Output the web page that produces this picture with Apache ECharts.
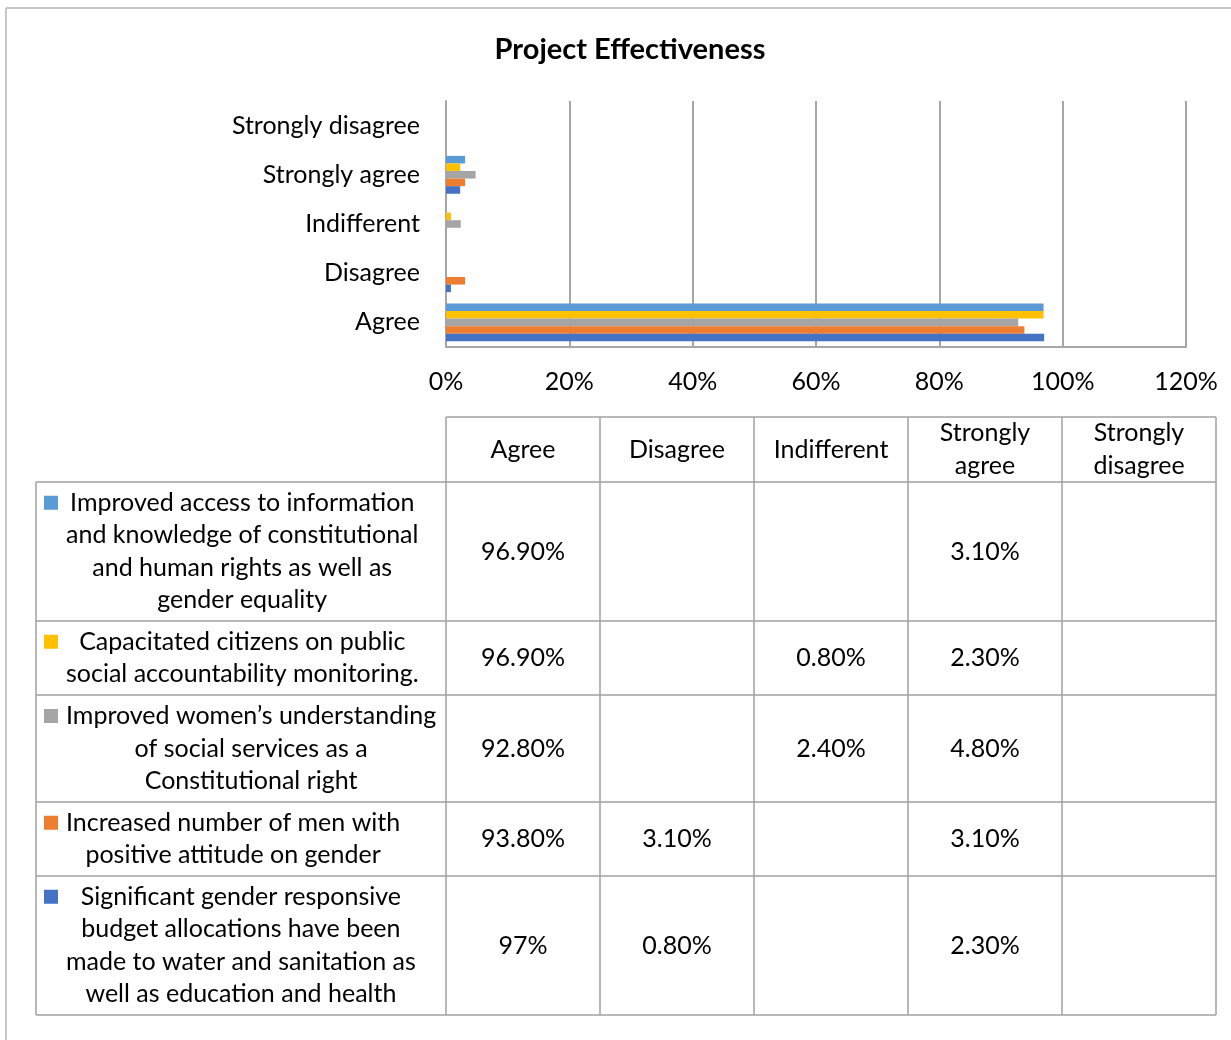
<!DOCTYPE html>
<html>
<head>
<meta charset="utf-8">
<title>Project Effectiveness</title>
<script src="https://cdn.jsdelivr.net/npm/echarts@6/dist/echarts.min.js"></script>
<style>
  html, body { margin: 0; padding: 0; background: #ffffff; }
  #chart { width: 1231px; height: 1040px; }
</style>
</head>
<body>
<div id="chart"></div>
<script>
// ---- Data -------------------------------------------------------------
const categories = ['Agree', 'Disagree', 'Indifferent', 'Strongly agree', 'Strongly disagree'];

// Series names as shown in the data table (line breaks as laid out in the cells)
const seriesNames = [
  'Improved access to information\nand knowledge of constitutional\nand human rights as well as\ngender equality',
  'Capacitated citizens on public\nsocial accountability monitoring.',
  'Improved women\u2019s understanding\nof social services as a\nConstitutional right',
  'Increased number of men with\npositive attitude on gender',
  'Significant gender responsive\nbudget allocations have been\nmade to water and sanitation as\nwell as education and health'
];

// Percent values per category (Agree, Disagree, Indifferent, Strongly agree, Strongly disagree)
const accessToInformation   = [96.9, null, null, 3.1, null];
const citizensCapacitated   = [96.9, null, 0.8, 2.3, null];
const womensUnderstanding   = [92.8, null, 2.4, 4.8, null];
const menPositiveAttitude   = [93.8, 3.1, null, 3.1, null];
const genderBudgetAllocated = [97, 0.8, null, 2.3, null];

const seriesValues = [accessToInformation, citizensCapacitated, womensUnderstanding, menPositiveAttitude, genderBudgetAllocated];
const seriesColors = ['#5B9BD5', '#FFC000', '#A5A5A5', '#ED7D31', '#4472C4'];

const axisMax = 120;
const axisStep = 20;

// ---- Styling / layout ------------------------------------------------
const FONT = 'Lato';
const FS = 25;
const LINE_H = 32.5;
const GRID_COLOR = '#A6A6A6';
const TABLE_COLOR = '#A0A0A0';

const colEdges = [446, 600, 754, 908, 1062, 1216];
const rowEdges = [417, 482, 621, 695, 802, 876, 1015];
const tableLeft = 36;
const keyLeft = 44, keySize = 14, legendTextLeft = 66;

const measureCtx = document.createElement('canvas').getContext('2d');
measureCtx.font = FS + 'px ' + FONT;
const textWidth = s => measureCtx.measureText(s).width;

const fmtPct = v => (Number.isInteger(v) ? v : v.toFixed(2)) + '%';

const txt = (text, x, y, extra) => ({
  type: 'text',
  silent: true,
  style: Object.assign({
    text: text, x: x, y: y,
    fontFamily: FONT, fontSize: FS, fill: '#000',
    align: 'center', verticalAlign: 'middle', lineHeight: LINE_H
  }, extra || {})
});
const line = (x1, y1, x2, y2, color, w) => ({
  type: 'line', silent: true,
  shape: { x1: x1, y1: y1, x2: x2, y2: y2 },
  style: { stroke: color, lineWidth: w }
});

// ---- Data table under the chart ---------------------------------------
const graphics = [];
// outer frame edges
graphics.push(line(6, 8, 6, 1040, '#B4B4B4', 1.5));
graphics.push(line(6, 8, 1231, 8, '#B4B4B4', 1.5));

// grid lines of the table
graphics.push(line(colEdges[0], rowEdges[0], colEdges[colEdges.length - 1], rowEdges[0], TABLE_COLOR, 1.5));
for (let r = 1; r < rowEdges.length; r++) {
  graphics.push(line(tableLeft, rowEdges[r], colEdges[colEdges.length - 1], rowEdges[r], TABLE_COLOR, 1.5));
}
graphics.push(line(tableLeft, rowEdges[1], tableLeft, rowEdges[rowEdges.length - 1], TABLE_COLOR, 1.5));
colEdges.forEach(x => graphics.push(line(x, rowEdges[0], x, rowEdges[rowEdges.length - 1], TABLE_COLOR, 1.5)));

// header row: category names
categories.forEach((c, i) => {
  const cx = (colEdges[i] + colEdges[i + 1]) / 2;
  const cy = (rowEdges[0] + rowEdges[1]) / 2;
  graphics.push(txt(c.replace(' ', '\n'), cx, cy));
});

// one row per series: legend key, name, values
seriesNames.forEach((name, s) => {
  const top = rowEdges[s + 1], bottom = rowEdges[s + 2];
  const cy = (top + bottom) / 2;
  const lines = name.split('\n');
  const maxW = Math.max.apply(null, lines.map(textWidth));
  const firstLineY = cy - (lines.length - 1) * LINE_H / 2;
  graphics.push({
    type: 'rect', silent: true,
    shape: { x: keyLeft, y: firstLineY - keySize / 2, width: keySize, height: keySize },
    style: { fill: seriesColors[s] }
  });
  graphics.push(txt(name, legendTextLeft + maxW / 2, cy));
  seriesValues[s].forEach((v, i) => {
    if (v == null) return;
    const cx = (colEdges[i] + colEdges[i + 1]) / 2;
    graphics.push(txt(fmtPct(v), cx, cy));
  });
});

// ---- Chart --------------------------------------------------------------
const option = {
  animation: false,
  backgroundColor: '#ffffff',
  title: {
    text: 'Project Effectiveness',
    left: 625,
    top: 30,
    textAlign: 'center',
    textStyle: { fontFamily: FONT, fontSize: 29, fontWeight: 'bold', color: '#000' }
  },
  grid: { left: 446, top: 101, width: 740, height: 246, containLabel: false },
  xAxis: {
    type: 'value',
    min: 0,
    max: axisMax,
    interval: axisStep,
    axisLine: { show: true, lineStyle: { color: GRID_COLOR, width: 2 } },
    axisTick: { show: false },
    splitLine: { show: true, lineStyle: { color: GRID_COLOR, width: 2 } },
    axisLabel: { formatter: '{value}%', fontFamily: FONT, fontSize: FS, color: '#000', margin: 22 }
  },
  yAxis: {
    type: 'category',
    data: categories,
    axisLine: { show: true, lineStyle: { color: GRID_COLOR, width: 2 } },
    axisTick: { show: false },
    splitLine: { show: false },
    axisLabel: { fontFamily: FONT, fontSize: FS, color: '#000', margin: 26 }
  },
  // first table row sits at the top of each category band
  series: seriesNames.map((name, s) => ({
    type: 'bar',
    name: name,
    data: seriesValues[s],
    itemStyle: { color: seriesColors[s] },
    barGap: '0%',
    barCategoryGap: '23%',
    silent: true
  })),
  graphic: { elements: graphics }
};

const chart = echarts.init(document.getElementById('chart'), null, { renderer: 'canvas' });
chart.setOption(option);
</script>
</body>
</html>
